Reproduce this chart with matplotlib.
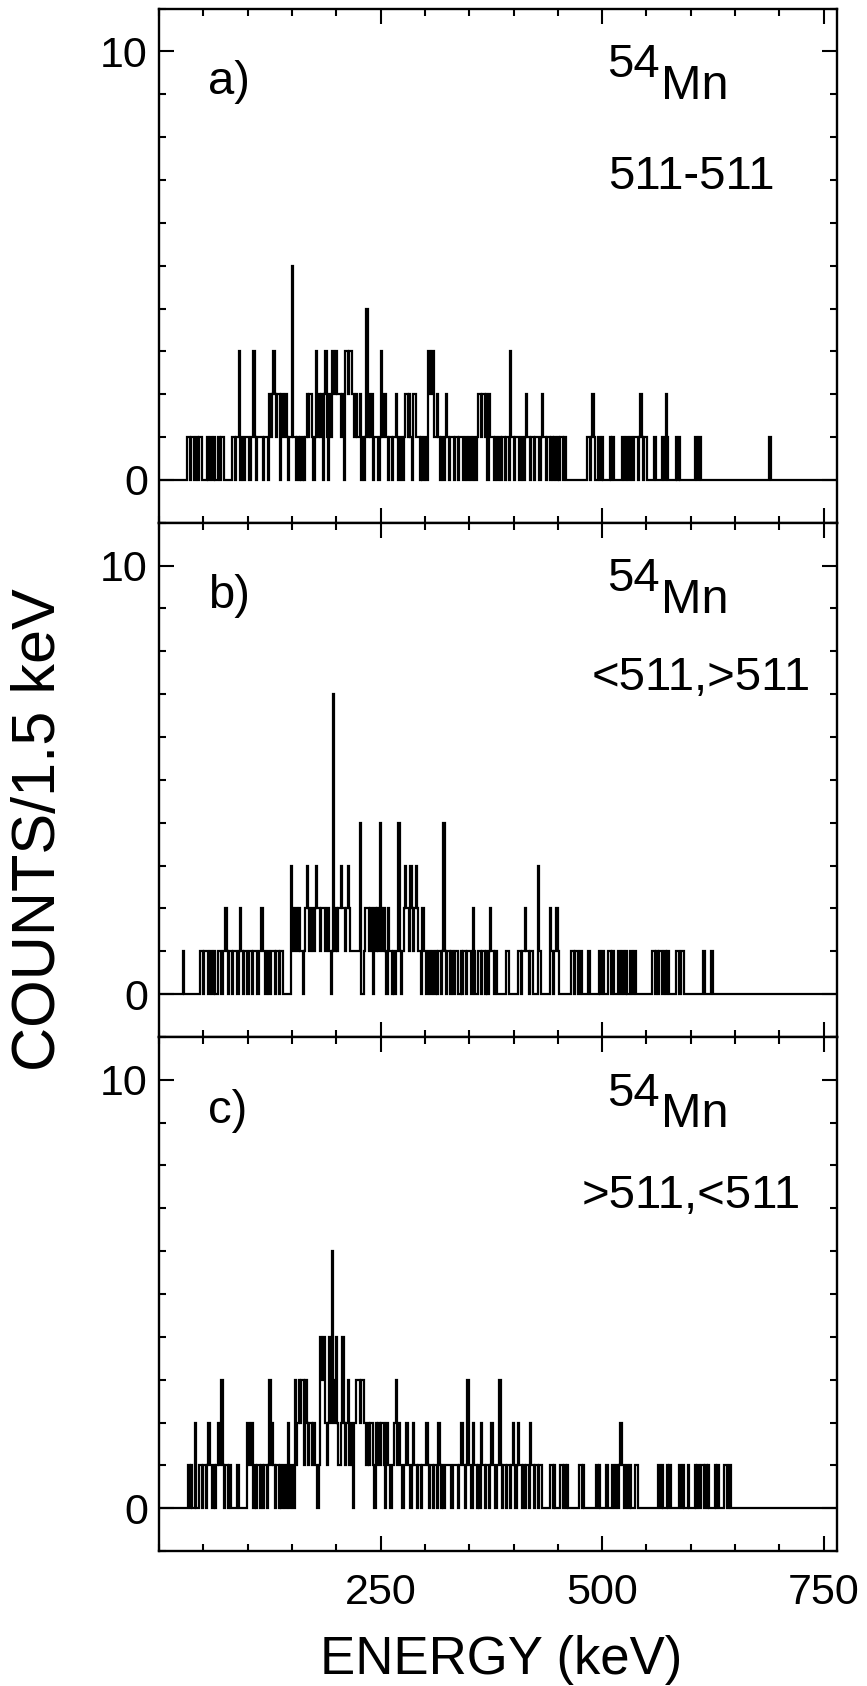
import numpy as np
import matplotlib
matplotlib.use("Agg")
import matplotlib.pyplot as plt
from matplotlib.ticker import MultipleLocator

plt.rcParams["font.family"] = ["Liberation Sans", "DejaVu Sans"]

# counts per 1.5 keV channel (one character per channel, 50 per row = 75 keV)
counts_a = [
    "000000000000000000000" "11011" "00" "10110" "000" "101101" "00" "110110",
    "00000" "11011" "3" "01001" "11011" "3" "1011" "11011" "10" "2123" "2122021" "121011",
    "5" "110101" "0101" "21221" "01" "3" "1" "21202" "3" "1021" "332322" "2120" "332332" "2121",
    "120" "101" "4" "1212011" "101" "3" "122101" "1011" "2" "101101" "221210221" "110101",
    "10" "332331" "1210" "11012" "10111011011101101" "101101" "2212212021",
    "1101" "00" "1011" "0110" "3" "110111011" "01" "2" "1101101110" "1" "2" "11011010110",
    "1011010" "00000000000000" "01101" "2" "100" "11010" "0000" "101" "000000" "11",
    "011011011" "101" "2" "1011" "00000" "110" "000" "110" "2" "1" "000000" "101" "00000000",
    "000" "11011" + "0" * 42,
    "000000000" "1" + "0" * 40,
    "0" * 10,
]

counts_b = [
    "0" * 18 + "1" + "0" * 12 + "1101110110" "1001" "11011",
    "2" "1011011101" "2" "10110011011101" "12" "1101101110110110" "00000" "3",
    "212212" "11012" "3" "212212" "3" "2212221221" "0" "1" "7" "1212" "232212321" "11111",
    "14" "001" "22212" "10212" "14" "212102110" "1011" "4" "1012" "3221321232" "11021",
    "1011011010110" "14" "1011010011001011011" "102" "100" "1101101" "01" "2",
    "1101" "00000001" "10" "000000" "11011211011" "0000" "3" "1000000" "0210112",
    "1000000000" "11011" "001000001" "0000000" "1011" "000" "1101" "000" "11011",
    "01" "00" "110110" + "0" * 11 + "1101011" "00" "10110" "0000" "110011" "00000",
    "0" * 9 + "110" "000" "11" + "0" * 33,
    "0" * 50,
    "0" * 10,
]

counts_c = [
    "0" * 22 + "101" "00" "2" "001" "1011" "01" "2" "110101" "2" "11" "3" "10",
    "11010" "0000" "1" "000000" "221220" "1011" "0101101" "3" "121" "011010110" "12" "01",
    "10" "3" "12" "3233132" "122121" "101" "43442" "12" "4" "2" "6" "32" "4" "21" "1" "24" "212" "3" "121" "0233",
    "323322" "12122102121221021" "10112" "3" "121101121101211011011",
    "12" "10110110" "2" "1010" "1111101111" "01" "2" "2" "101" "3" "110" "2" "1101" "0" "2" "1101101",
    "2" "11011" "3" "101101101" "2" "101" "2" "11010110" "2" "11011011" "00000" "01101" "00",
    "00" "110101" "00000000" "1101" "000000000" "101" "0000" "11" "000" "10" "0" "101" "2" "11",
    "01101" "000" "110" + "0" * 14 + "1101" "000" "101" "000000" "1101" "000" "10",
    "000" "101" "00" "110101" "0000" "101" "0000" "110" "01" + "0" * 20,
    "0" * 50,
    "0" * 10,
]

panel_labels = ["a)", "b)", "c)"]
gates = ["511-511", "<511,>511", ">511,<511"]
bin_width = 1.5


def to_array(rows):
    s = "".join(rows)
    if len(s) != 510:
        raise ValueError("bad length %d %s" % (len(s), [len(r) for r in rows]))
    return np.array([int(c) for c in s])


spectra = [to_array(counts_a), to_array(counts_b), to_array(counts_c)]
edges = bin_width * np.arange(511)

fig, axes = plt.subplots(3, 1, sharex=True, figsize=(8.67, 16.86), dpi=100,
                         gridspec_kw=dict(hspace=0))
fig.subplots_adjust(left=0.1834, right=0.9654, top=0.9949, bottom=0.080)

gate_x = [601, 612, 600]
gate_y = [6.8, 7.1, 7.0]

for ax, spec, lab, gate, gx, gy in zip(axes, spectra, panel_labels, gates, gate_x, gate_y):
    ax.stairs(spec, edges, color="black", lw=1.6)
    ax.set_xlim(0, 765)
    ax.set_ylim(-1, 11)
    ax.set_yticks([0, 10])
    ax.yaxis.set_minor_locator(MultipleLocator(1))
    ax.set_xticks([250, 500, 750])
    ax.xaxis.set_minor_locator(MultipleLocator(50))
    ax.tick_params(which="both", direction="in", top=True, right=True, width=1.5)
    ax.tick_params(which="major", length=11, labelsize=31)
    ax.tick_params(axis="y", which="major", pad=8)
    ax.tick_params(axis="x", which="major", pad=16)
    ax.tick_params(which="minor", length=5)
    for sp in ax.spines.values():
        sp.set_linewidth(1.7)

    ax.text(55, 9.0, lab, fontsize=34, ha="left", va="baseline")
    ax.text(565, 9.4, "54", fontsize=34, ha="right", va="baseline")
    ax.text(566, 8.9, "Mn", fontsize=35, ha="left", va="baseline")
    ax.text(gx, gy, gate, fontsize=34, ha="center", va="baseline")

fig.text(0.046, 0.508, "COUNTS/1.5 keV", rotation=90, fontsize=44,
         ha="center", va="center")
fig.text(0.578, 0.0154, "ENERGY (keV)", fontsize=38, ha="center", va="center")

fig.savefig("out.png", dpi=100)
